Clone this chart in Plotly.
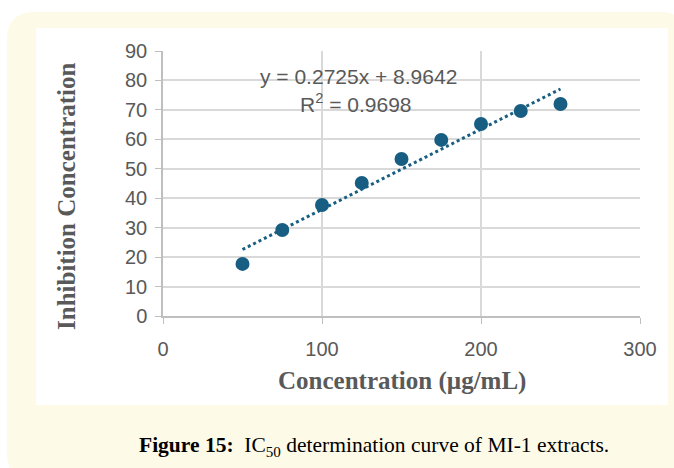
import plotly.graph_objects as go

# Extract concentration (µg/mL) and measured inhibition
concentration = [50, 75, 100, 125, 150, 175, 200, 225, 250]
inhibition = [17.7, 29.2, 37.7, 45.2, 53.3, 59.8, 65.2, 69.6, 72.0]

# Linear fit reported on the chart
slope = 0.2725
intercept = 8.9642
r_squared = 0.9698

x_ticks = [0, 100, 200, 300]
y_ticks = [0, 10, 20, 30, 40, 50, 60, 70, 80, 90]

W, H = 674, 468
MARK = "#175E82"
GRAY = "#595959"
SANS = "Liberation Sans, Arial"
SERIF = "Liberation Serif, Times New Roman"


def px(x):
    return x / W


def py(y):
    return 1 - y / H


fit_x = [concentration[0], concentration[-1]]
fit_y = [slope * v + intercept for v in fit_x]

fig = go.Figure()
fig.add_trace(go.Scatter(
    x=fit_x, y=fit_y, mode="lines",
    line=dict(color=MARK, width=3, dash="dot"),
    hoverinfo="skip", showlegend=False,
))
fig.add_trace(go.Scatter(
    x=concentration, y=inhibition, mode="markers",
    marker=dict(color=MARK, size=14),
    showlegend=False,
))


def rounded_path(x0, y0, x1, y1, r):
    pts = [
        (x0 + r, y0), (x1 - r, y0), (x1, y0), (x1, y0 + r),
        (x1, y1 - r), (x1, y1), (x1 - r, y1),
        (x0 + r, y1), (x0, y1), (x0, y1 - r),
        (x0, y0 + r), (x0, y0), (x0 + r, y0),
    ]
    p = [(px(a), py(b)) for a, b in pts]
    return (
        f"M {p[0][0]},{p[0][1]} L {p[1][0]},{p[1][1]} "
        f"Q {p[2][0]},{p[2][1]} {p[3][0]},{p[3][1]} "
        f"L {p[4][0]},{p[4][1]} Q {p[5][0]},{p[5][1]} {p[6][0]},{p[6][1]} "
        f"L {p[7][0]},{p[7][1]} Q {p[8][0]},{p[8][1]} {p[9][0]},{p[9][1]} "
        f"L {p[10][0]},{p[10][1]} Q {p[11][0]},{p[11][1]} {p[12][0]},{p[12][1]} Z"
    )


shapes = [
    dict(type="path", xref="paper", yref="paper", layer="below",
         path=rounded_path(7, 12, 688, 482, 28),
         fillcolor="#FEFAE8", line=dict(width=0)),
    dict(type="rect", xref="paper", yref="paper", layer="below",
         x0=px(36), x1=px(668), y0=py(405), y1=py(28),
         fillcolor="white", line=dict(width=0)),
]


def label(x, y, text, family, size, color, angle=0):
    return dict(xref="paper", yref="paper", x=px(x), y=py(y),
                xanchor="center", yanchor="middle", textangle=angle,
                text=text, showarrow=False,
                font=dict(family=family, size=size, color=color))


annotations = [
    label(358, 77, f"y = {slope}x + {intercept}", SANS, 21, GRAY),
    label(356, 103, f"R<sup>2</sup> = {r_squared}", SANS, 21, GRAY),
    label(374, 446,
          "<b>Figure 15:</b>  IC<sub>50</sub> determination curve of MI-1 extracts.",
          SERIF, 21.5, "black"),
    # axis titles
    label(402, 381, "<b>Concentration (µg/mL)</b>", SERIF, 25, GRAY),
    label(66, 196, "<b>Inhibition Concentration</b>", SERIF, 25, GRAY, angle=-90),
]

fig.update_layout(
    width=W, height=H,
    margin=dict(l=0, r=0, t=0, b=0),
    paper_bgcolor="white",
    plot_bgcolor="rgba(0,0,0,0)",
    shapes=shapes,
    annotations=annotations,
    xaxis=dict(
        domain=[px(163), px(640)], range=[0, 300],
        tickvals=x_ticks, ticks="outside", ticklen=6, tickcolor="#BFBFBF",
        ticklabelstandoff=8,
        showgrid=True, gridcolor="#D9D9D9", gridwidth=1.5,
        showline=True, linecolor="#BFBFBF", linewidth=1.5,
        zeroline=False, automargin=False,
        tickfont=dict(family=SANS, size=20, color=GRAY),
    ),
    yaxis=dict(
        domain=[py(316), py(51)], range=[0, 90],
        tickvals=y_ticks, ticks="outside", ticklen=6, tickcolor="#BFBFBF",
        ticklabelstandoff=4,
        showgrid=True, gridcolor="#D9D9D9", gridwidth=1.5,
        showline=True, linecolor="#BFBFBF", linewidth=1.5,
        zeroline=False, automargin=False,
        tickfont=dict(family=SANS, size=20, color=GRAY),
    ),
)

fig.write_html("out.html")
